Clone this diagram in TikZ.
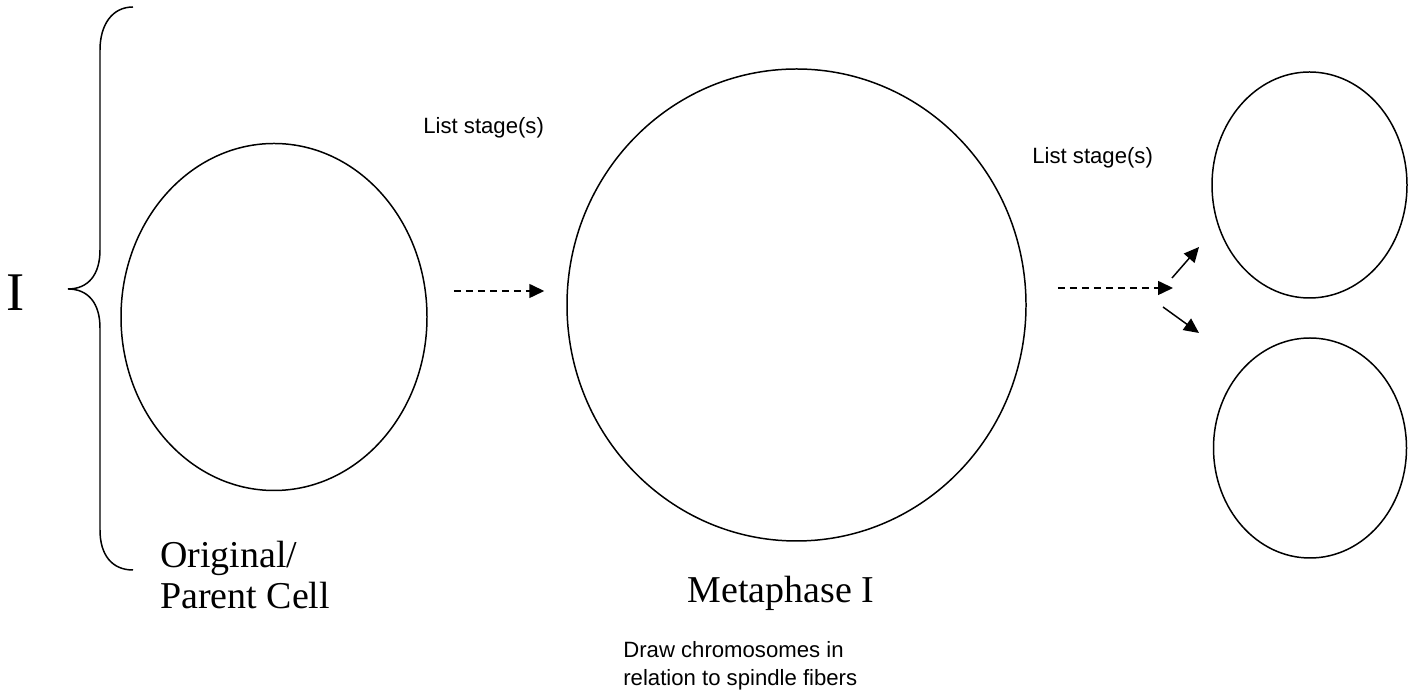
\documentclass[tikz,border=0pt]{standalone}
\usepackage{fontspec}
\setmainfont{Liberation Serif}
\setsansfont{Liberation Sans}
\usepackage{tikz}
\usetikzlibrary{arrows.meta, positioning, shapes.geometric, calc}

\begin{document}
\begin{tikzpicture}[
    cell/.style={ellipse,draw,line width=0.85pt,inner sep=0pt},
    arrow/.style={-{Triangle[length=0.3cm,width=0.28cm]},line width=0.85pt},
    dasharrow/.style={arrow,dash pattern=on 0.14cm off 0.1cm},
    stage/.style={font=\sffamily\fontsize{12.6}{15.9}\selectfont,inner sep=0pt},
    caption/.style={font=\fontsize{21.6}{23.3}\selectfont,inner sep=0pt,align=left}
]
    % Page frame
    \useasboundingbox (0,0) rectangle (28.32,13.92);

    % Brace grouping the first division
    \coordinate (bracetip) at (1.36,8.14);
    \draw[line width=0.85pt] (2.66,13.78) .. controls (2.24,13.78) and (2.0,13.42) .. (2.0,12.92)
        -- (2.0,8.92) .. controls (2.0,8.42) and (1.76,8.14) .. (bracetip)
        .. controls (1.76,8.14) and (2.0,7.86) .. (2.0,7.36)
        -- (2.0,3.32) .. controls (2.0,2.82) and (2.24,2.52) .. (2.66,2.52);
    \node[font=\fontsize{31}{31}\selectfont] (division) at (0.32,8.06) {I};

    % Cells
    \node[cell,minimum width=6.12cm,minimum height=6.94cm] (parent) at (5.48,7.58) {};
    \node[cell,minimum width=9.18cm,minimum height=9.44cm] (meta) at (15.93,7.82) {};
    \node[cell,minimum width=3.9cm,minimum height=4.52cm] (daughterA) at (26.19,10.22) {};
    \node[cell,minimum width=3.86cm,minimum height=4.4cm] (daughterB) at (26.2,4.96) {};

    % Labels
    \node[caption,anchor=north west] (parentlabel) at (3.2,3.1) {Original/\\Parent Cell};
    \node[caption,anchor=base] (metalabel) at (15.62,1.86) {Metaphase I};
    \node[stage,anchor=base west] (stageA) at (8.46,11.24) {List stage(s)};
    \node[stage,anchor=base west] (stageB) at (20.64,10.64) {List stage(s)};
    \node[stage,anchor=north west,align=left] (note) at (12.46,1.1) {Draw chromosomes in\\relation to spindle fibers};

    % Division arrows
    \draw[dasharrow] ([xshift=0.52cm,yshift=0.52cm]parent.east) -- ([xshift=-0.44cm,yshift=0.28cm]meta.west);
    \coordinate (fork) at (23.46,8.16);
    \draw[dasharrow] ([xshift=0.62cm,yshift=0.34cm]meta.east) -- (fork);
    \draw[arrow] ([shift={(-0.02,0.2)}]fork) -- ([shift={(0.52,0.82)}]fork);
    \draw[arrow] ([shift={(-0.2,-0.38)}]fork) -- ([shift={(0.52,-0.9)}]fork);
\end{tikzpicture}
\end{document}
